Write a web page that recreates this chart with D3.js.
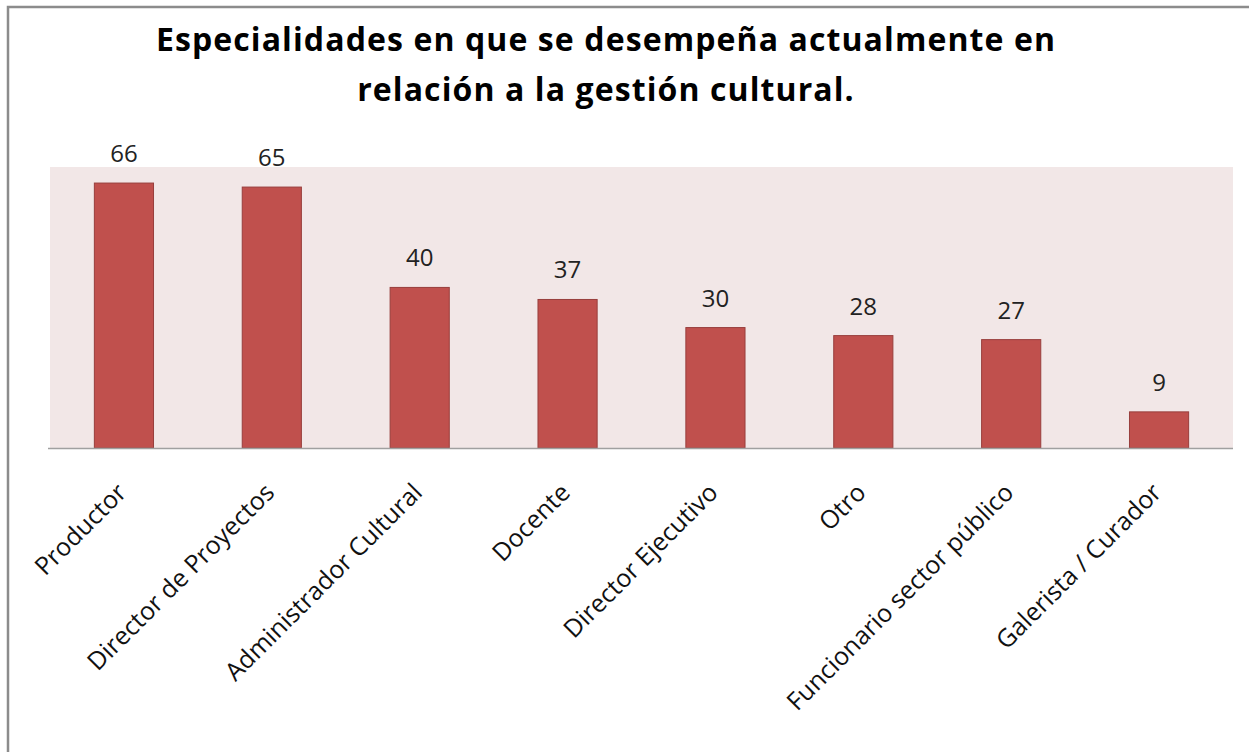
<!DOCTYPE html>
<html>
<head>
<meta charset="utf-8">
<script src="https://cdn.jsdelivr.net/npm/d3@7"></script>
<style>
  body { margin: 0; background: #fff; }
  svg { display: block; font-family: "Open Sans", sans-serif; }
</style>
</head>
<body>
<svg id="chart"></svg>
<script>
// data
var categories = ["Productor", "Director de Proyectos", "Administrador Cultural", "Docente",
                  "Director Ejecutivo", "Otro", "Funcionario sector público", "Galerista / Curador"];
var values = [66, 65, 40, 37, 30, 28, 27, 9];
var titleLines = ["Especialidades en que se desempeña actualmente en", "relación a la gestión cultural."];

var width = 1249, height = 752;
var plot = { left: 50, right: 1233, top: 167, bottom: 448 };

var svg = d3.select("#chart")
    .attr("width", width)
    .attr("height", height);

// outer frame (only top and left edges show in the picture)
svg.append("rect")
    .attr("x", 8).attr("y", 7)
    .attr("width", 1300).attr("height", 800)
    .style("fill", "none")
    .style("stroke", "#8c8c8c")
    .style("stroke-width", 2.5);

// title
svg.append("g").selectAll("text")
    .data(titleLines)
    .enter()
    .append("text")
    .attr("x", 606)
    .attr("y", function(d, i) { return 51 + i * 50; })
    .attr("text-anchor", "middle")
    .style("font-weight", "bold")
    .style("font-size", "32px")
    .style("letter-spacing", "1.1px")
    .style("fill", "#000")
    .text(function(d) { return d; });

var x = d3.scaleBand()
    .domain(categories)
    .range([plot.left, plot.right])
    .paddingInner(0.6)
    .paddingOuter(0.3);

var y = d3.scaleLinear()
    .domain([0, 70])
    .range([plot.bottom, plot.top]);

// plot background
svg.append("rect")
    .attr("x", plot.left)
    .attr("y", plot.top)
    .attr("width", plot.right - plot.left)
    .attr("height", plot.bottom - plot.top)
    .style("fill", "#f2e7e7");

// bars
svg.append("g").selectAll("rect")
    .data(values)
    .enter()
    .append("rect")
    .attr("x", function(d, i) { return x(categories[i]); })
    .attr("y", function(d) { return y(d); })
    .attr("width", x.bandwidth())
    .attr("height", function(d) { return y(0) - y(d); })
    .style("fill", "#c0504d")
    .style("stroke", "#983e3c")
    .style("stroke-width", 1);

// value labels
svg.append("g").selectAll("text")
    .data(values)
    .enter()
    .append("text")
    .attr("x", function(d, i) { return x(categories[i]) + x.bandwidth() / 2; })
    .attr("y", function(d) { return y(d) - 21; })
    .attr("text-anchor", "middle")
    .style("font-size", "24px")
    .style("fill", "#222")
    .text(function(d) { return d; });

// category axis
var axis = svg.append("g")
    .attr("transform", "translate(0," + plot.bottom + ")")
    .call(d3.axisBottom(x).tickSize(0).tickPadding(0));

axis.select(".domain")
    .attr("d", "M" + (plot.left - 2) + ",0.5H" + plot.right)
    .style("stroke", "#a0a0a0")
    .style("stroke-width", 1.5);

axis.selectAll(".tick text")
    .attr("text-anchor", "end")
    .attr("dy", 0)
    .attr("transform", "translate(4,46) rotate(-45)")
    .style("font-family", "'Open Sans', sans-serif")
    .style("font-size", "25px")
    .style("fill", "#111");
</script>
</body>
</html>
